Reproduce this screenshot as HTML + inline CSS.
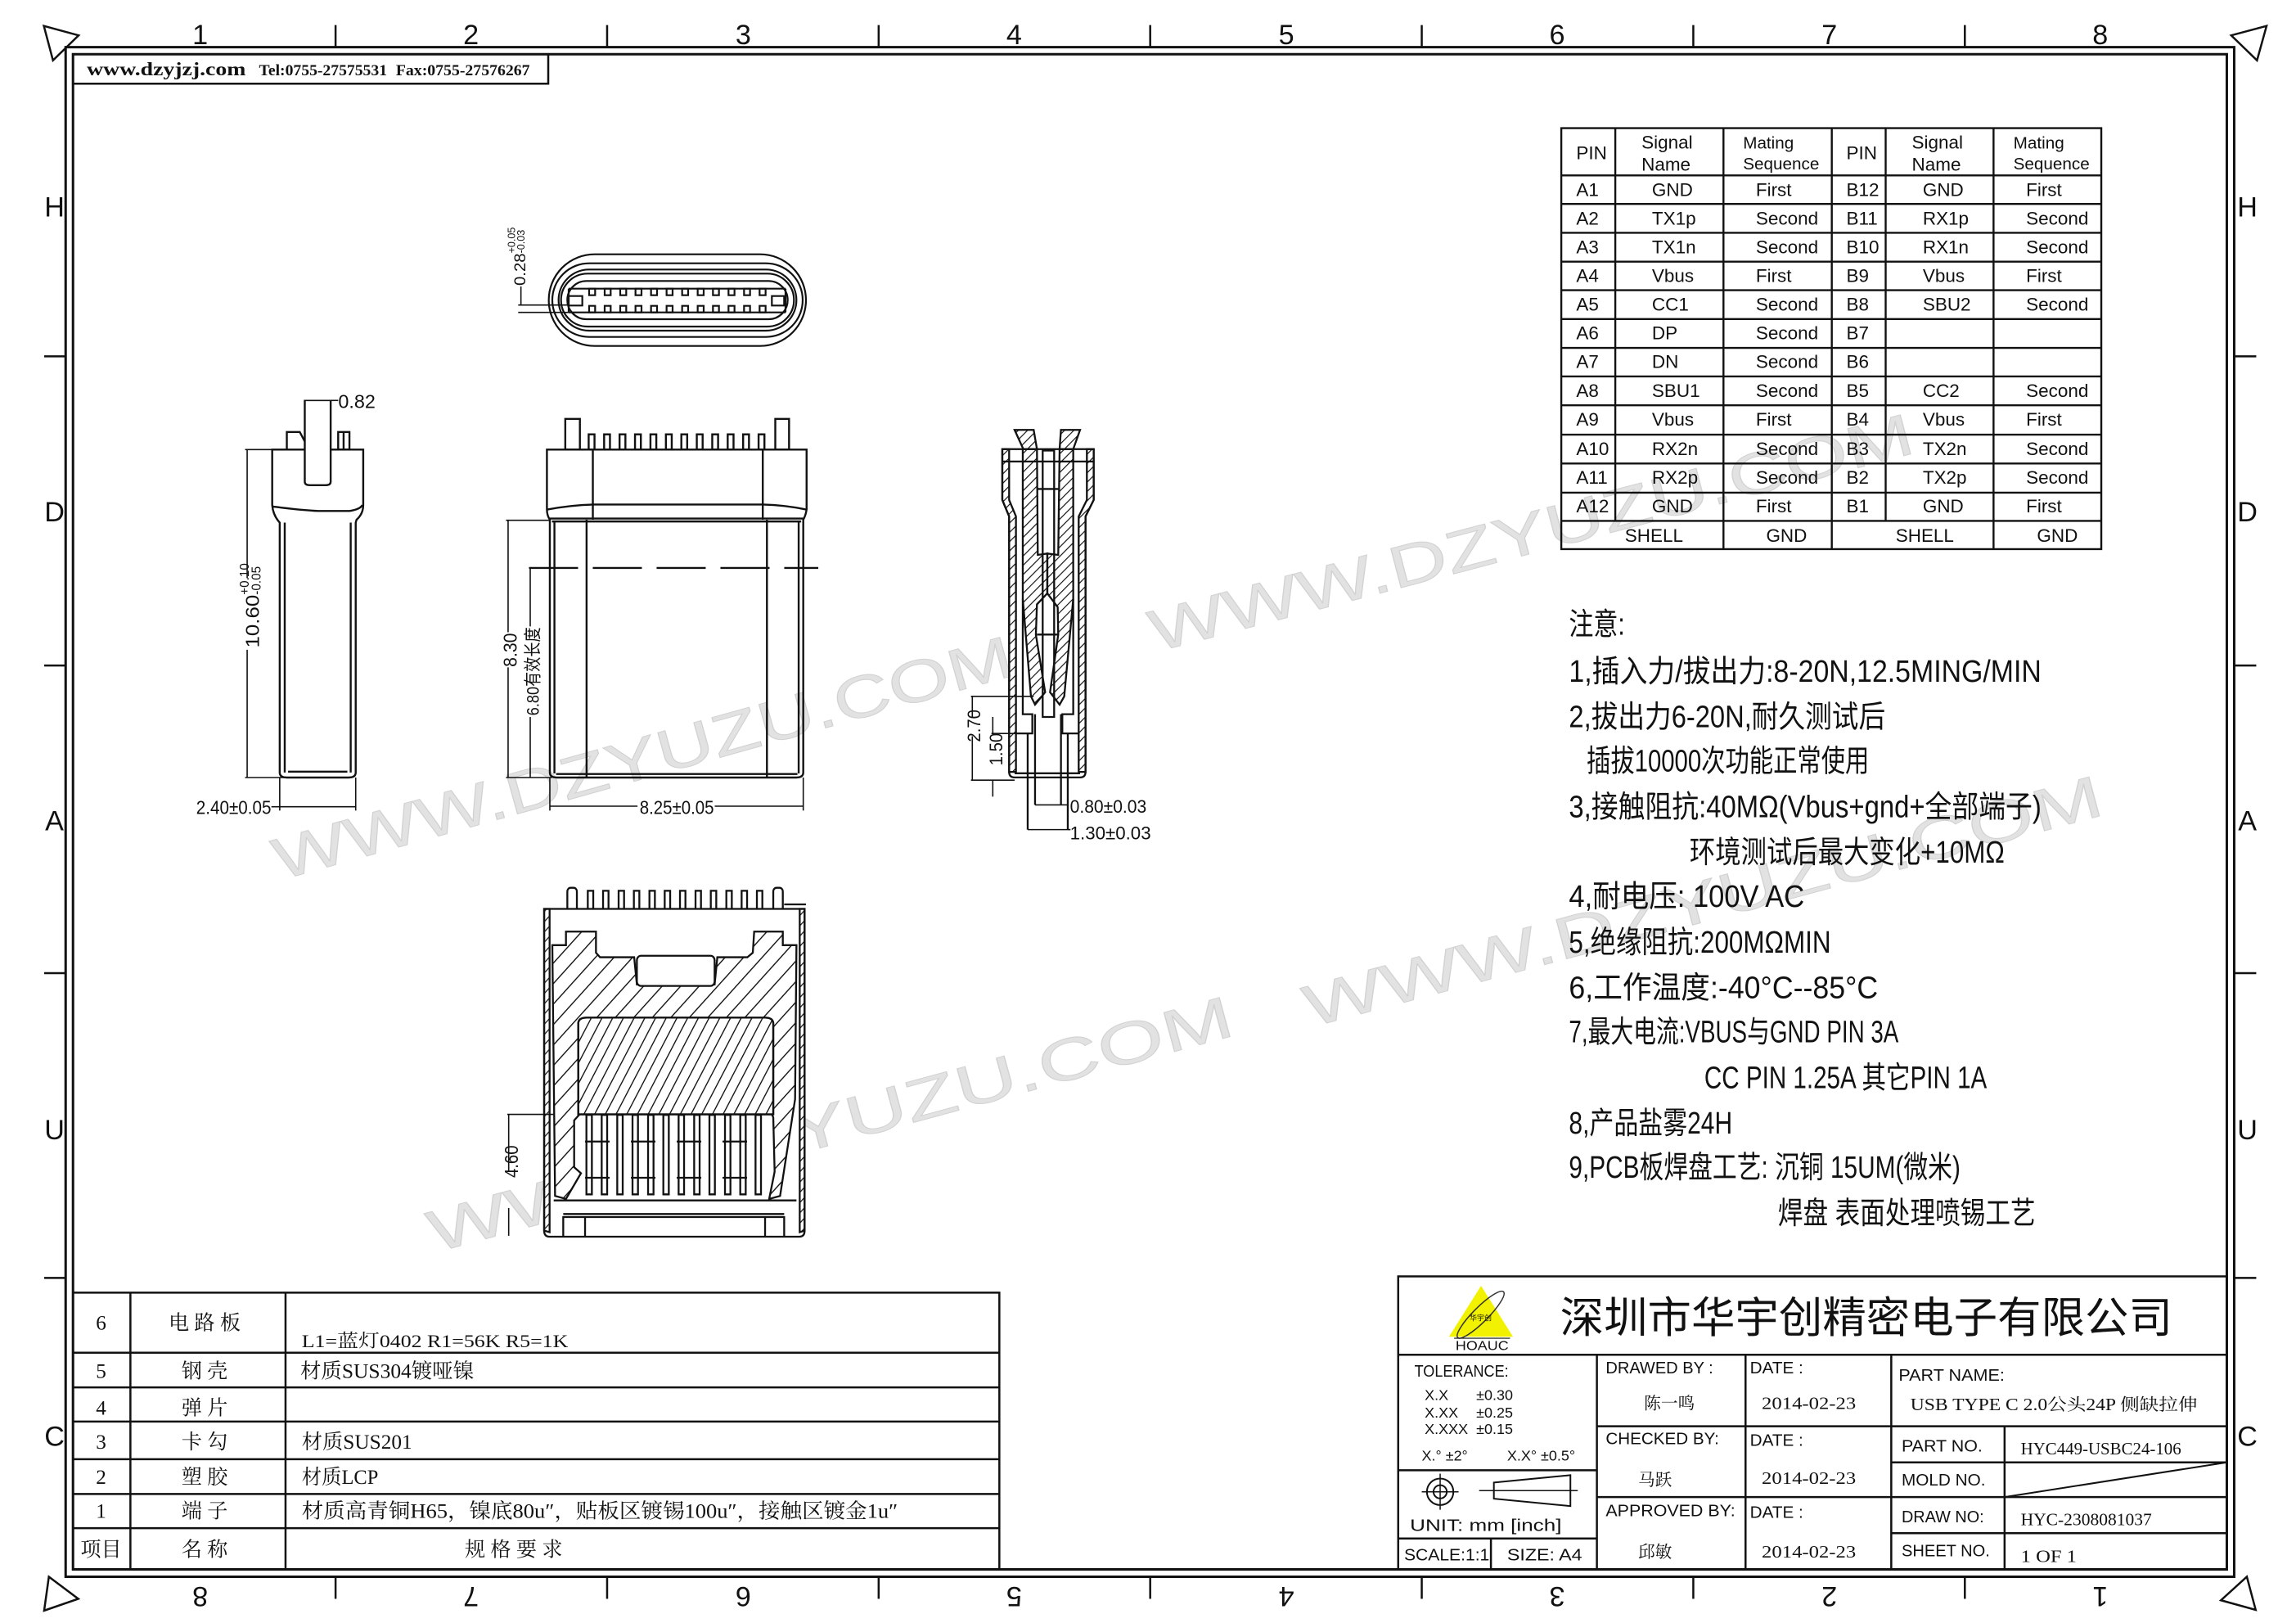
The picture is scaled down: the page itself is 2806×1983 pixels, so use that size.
<!DOCTYPE html>
<html><head><meta charset="utf-8"><style>
html,body{margin:0;padding:0;background:#fff;}
svg{display:block;}
svg *{vector-effect:non-scaling-stroke;}
.c{font-family:"Liberation Sans Narrow","Liberation Sans",sans-serif;fill:#111;}
.s{font-family:"Liberation Serif","Noto Serif CJK SC",serif;fill:#111;}
.k{font-family:"Liberation Sans Narrow","Liberation Sans","Noto Sans CJK SC",sans-serif;fill:#111;}
.ks{font-family:"Liberation Serif","Noto Serif CJK SC",serif;fill:#111;}
.wm{font-family:"Liberation Sans",sans-serif;fill:#e2e2e2;stroke:#d2d2d2;stroke-width:1;}
</style></head><body>
<svg width="2806" height="1983" viewBox="0 0 1560 1102.4" xmlns="http://www.w3.org/2000/svg">
<defs>
<pattern id="hA" patternUnits="userSpaceOnUse" width="48" height="48" patternTransform="rotate(45)"><rect x="-4" y="0" width="8" height="48" fill="#111" style="vector-effect:none"/></pattern>
<pattern id="hB" patternUnits="userSpaceOnUse" width="34" height="34" patternTransform="rotate(30)"><rect x="-4" y="0" width="8" height="34" fill="#111" style="vector-effect:none"/></pattern>
<pattern id="hC" patternUnits="userSpaceOnUse" width="24" height="24" patternTransform="rotate(45)"><rect x="-3.5" y="0" width="7" height="24" fill="#111" style="vector-effect:none"/></pattern>
<marker id="ar" viewBox="0 0 10 10" refX="10" refY="5" markerWidth="6" markerHeight="4" orient="auto-start-reverse" markerUnits="userSpaceOnUse"><path d="M0,2 L10,5 L0,8 Z" fill="#111"/></marker>
</defs>
<rect width="1560" height="1102.4" fill="#fff"/>

<g class="wm" font-size="40">
<text transform="translate(190,598) rotate(-15.6)" textLength="520" lengthAdjust="spacingAndGlyphs">WWW.DZYUZU.COM</text>
<text transform="translate(785,443) rotate(-14.7)" textLength="535" lengthAdjust="spacingAndGlyphs">WWW.DZYUZU.COM</text>
<text transform="translate(890,698) rotate(-15)" textLength="560" lengthAdjust="spacingAndGlyphs">WWW.DZYUZU.COM</text>
<text transform="translate(295,851) rotate(-15.2)" textLength="565" lengthAdjust="spacingAndGlyphs">WWW.DZYUZU.COM</text>
</g>

<g fill="none" stroke="#111">
<rect x="44.6" y="32" width="1473.4" height="1039" stroke-width="3"/>
<rect x="49.6" y="36.8" width="1463.4" height="1029.2" stroke-width="3"/>
<g stroke-width="2.5">
<line x1="228" y1="17" x2="228" y2="32"/><line x1="412.5" y1="17" x2="412.5" y2="32"/><line x1="597" y1="17" x2="597" y2="32"/><line x1="781.5" y1="17" x2="781.5" y2="32"/><line x1="966" y1="17" x2="966" y2="32"/><line x1="1150.5" y1="17" x2="1150.5" y2="32"/><line x1="1335" y1="17" x2="1335" y2="32"/>
<line x1="228" y1="1071" x2="228" y2="1086"/><line x1="412.5" y1="1071" x2="412.5" y2="1086"/><line x1="597" y1="1071" x2="597" y2="1086"/><line x1="781.5" y1="1071" x2="781.5" y2="1086"/><line x1="966" y1="1071" x2="966" y2="1086"/><line x1="1150.5" y1="1071" x2="1150.5" y2="1086"/><line x1="1335" y1="1071" x2="1335" y2="1086"/>
<line x1="30" y1="242" x2="44.6" y2="242"/><line x1="30" y1="452" x2="44.6" y2="452"/><line x1="30" y1="661" x2="44.6" y2="661"/><line x1="30" y1="868" x2="44.6" y2="868"/>
<line x1="1518" y1="242" x2="1533" y2="242"/><line x1="1518" y1="452" x2="1533" y2="452"/><line x1="1518" y1="661" x2="1533" y2="661"/><line x1="1518" y1="868" x2="1533" y2="868"/>
<polygon points="29.8,17.6 53.4,24 36,41"/>
<polygon points="1540,17.6 1516,24 1533.5,41"/>
<polygon points="33.2,1071 53.2,1086 30,1094"/>
<polygon points="1526.6,1071 1532.6,1093.5 1509,1087"/>
</g>
</g>
<g class="c" font-size="19" text-anchor="middle">
<text x="136" y="30">1</text><text x="320" y="30">2</text><text x="505" y="30">3</text><text x="689" y="30">4</text><text x="874" y="30">5</text><text x="1058" y="30">6</text><text x="1243" y="30">7</text><text x="1427" y="30">8</text>
<text x="37" y="147">H</text><text x="37" y="354">D</text><text x="37" y="564">A</text><text x="37" y="774">U</text><text x="37" y="982">C</text>
<text x="1527" y="147">H</text><text x="1527" y="354">D</text><text x="1527" y="564">A</text><text x="1527" y="774">U</text><text x="1527" y="982">C</text>
<text transform="translate(136,1078) rotate(180)">8</text><text transform="translate(320,1078) rotate(180)">7</text><text transform="translate(505,1078) rotate(180)">6</text><text transform="translate(689,1078) rotate(180)">5</text><text transform="translate(874,1078) rotate(180)">4</text><text transform="translate(1058,1078) rotate(180)">3</text><text transform="translate(1243,1078) rotate(180)">2</text><text transform="translate(1427,1078) rotate(180)">1</text>
</g>

<rect x="49.6" y="36.8" width="322.9" height="20" fill="none" stroke="#111" stroke-width="2.5"/>
<text class="s" x="59" y="51" font-size="13" font-weight="bold" textLength="108" lengthAdjust="spacingAndGlyphs">www.dzyjzj.com</text>
<text class="s" x="176" y="51" font-size="10.5" font-weight="bold" textLength="87" lengthAdjust="spacingAndGlyphs">Tel:0755-27575531</text>
<text class="s" x="269" y="51" font-size="10.5" font-weight="bold" textLength="91" lengthAdjust="spacingAndGlyphs">Fax:0755-27576267</text>

<g transform="translate(355.8,133.4) scale(0.18532)" fill="none" stroke="#111" stroke-width="2.2">
<rect x="92" y="212" width="943" height="336" rx="168"/>
<rect x="105" y="245" width="918" height="270" rx="135"/>
<rect x="128" y="268" width="872" height="224" rx="112"/>
<rect x="137" y="283" width="854" height="194" rx="97"/>
<rect x="160" y="310" width="808" height="140" rx="70"/>
<line x1="165" y1="338" x2="960" y2="338"/><line x1="165" y1="425" x2="960" y2="425"/>
<rect x="165" y="365" width="50" height="35"/><rect x="910" y="365" width="45" height="35"/>
<line x1="165" y1="338" x2="165" y2="425"/><line x1="960" y1="338" x2="960" y2="425"/>
<g>
<rect x="240" y="338" width="22" height="24"/><rect x="297" y="338" width="22" height="24"/><rect x="354" y="338" width="22" height="24"/><rect x="410" y="338" width="22" height="24"/><rect x="467" y="338" width="22" height="24"/><rect x="524" y="338" width="22" height="24"/><rect x="581" y="338" width="22" height="24"/><rect x="638" y="338" width="22" height="24"/><rect x="694" y="338" width="22" height="24"/><rect x="751" y="338" width="22" height="24"/><rect x="808" y="338" width="22" height="24"/><rect x="865" y="338" width="22" height="24"/>
<rect x="240" y="401" width="22" height="24"/><rect x="297" y="401" width="22" height="24"/><rect x="354" y="401" width="22" height="24"/><rect x="410" y="401" width="22" height="24"/><rect x="467" y="401" width="22" height="24"/><rect x="524" y="401" width="22" height="24"/><rect x="581" y="401" width="22" height="24"/><rect x="638" y="401" width="22" height="24"/><rect x="694" y="401" width="22" height="24"/><rect x="751" y="401" width="22" height="24"/><rect x="808" y="401" width="22" height="24"/><rect x="865" y="401" width="22" height="24"/>
</g>
<line x1="-20" y1="398" x2="165" y2="398" stroke-width="1.6"/><line x1="-20" y1="425" x2="165" y2="425" stroke-width="1.6"/>
<line x1="-10" y1="330" x2="-10" y2="398" stroke-width="1.6"/>
</g>
<g class="c" font-size="11">
<text transform="translate(357,194) rotate(-90)" textLength="22" lengthAdjust="spacingAndGlyphs">0.28</text>
<text transform="translate(350,172) rotate(-90)" font-size="7">+0.05</text>
<text transform="translate(356.5,172) rotate(-90)" font-size="7">-0.03</text>
</g>

<g transform="translate(111.2,255.7) scale(0.28366,0.19856)" fill="none" stroke="#111" stroke-width="2.4">
<path d="M260,250 L478,250 L478,440 Q478,470 462,490 L460,500 L460,1355 Q460,1372 443,1372 L295,1372 Q278,1372 278,1355 L278,500 Q262,475 260,440 Z"/>
<path d="M262,445 C300,452 330,458 370,460 L445,460 Q470,455 476,440"/>
<line x1="290" y1="500" x2="290" y2="1355"/><line x1="448" y1="500" x2="448" y2="1355"/>
<line x1="298" y1="1352" x2="440" y2="1352"/>
<path d="M338,80 L338,360 Q338,372 350,372 L388,372 Q400,372 400,360 L400,80" fill="#fff"/>
<path d="M295,250 L295,190 L326,190 L338,222"/>
<rect x="418" y="190" width="27" height="60"/><line x1="431" y1="190" x2="431" y2="250"/>
<g stroke-width="1.6">
<line x1="338" y1="82" x2="400" y2="82" marker-start="url(#ar)" marker-end="url(#ar)"/><line x1="400" y1="82" x2="418" y2="82"/>
<line x1="195" y1="250" x2="262" y2="250"/><line x1="195" y1="1372" x2="290" y2="1372"/>
<line x1="200" y1="250" x2="200" y2="690" marker-start="url(#ar)"/><line x1="200" y1="935" x2="200" y2="1372" marker-end="url(#ar)"/>
<line x1="278" y1="1372" x2="278" y2="1485"/><line x1="460" y1="1372" x2="460" y2="1485"/>
<line x1="258" y1="1472" x2="278" y2="1472"/><line x1="278" y1="1472" x2="460" y2="1472" marker-start="url(#ar)" marker-end="url(#ar)"/>
</g>
<rect x="962" y="145" width="35" height="105"/><rect x="1465" y="145" width="33" height="105"/>
<rect x="1018" y="198" width="14" height="52"/><rect x="1055" y="198" width="14" height="52"/><rect x="1092" y="198" width="14" height="52"/><rect x="1129" y="198" width="14" height="52"/><rect x="1166" y="198" width="14" height="52"/><rect x="1203" y="198" width="14" height="52"/><rect x="1240" y="198" width="14" height="52"/><rect x="1277" y="198" width="14" height="52"/><rect x="1314" y="198" width="14" height="52"/><rect x="1351" y="198" width="14" height="52"/><rect x="1388" y="198" width="14" height="52"/><rect x="1425" y="198" width="14" height="52"/>
<path d="M918,250 L1540,250 L1540,455 Q1538,475 1532,490 L1532,1355 Q1532,1372 1515,1372 L942,1372 Q925,1372 925,1355 L925,490 Q918,475 918,455 Z"/>
<path d="M920,455 Q975,440 1030,438 L1435,438 Q1490,440 1538,455"/>
<line x1="925" y1="486" x2="1532" y2="486"/><line x1="930" y1="496" x2="1527" y2="496"/>
<line x1="1028" y1="250" x2="1028" y2="490"/><line x1="1435" y1="250" x2="1435" y2="490"/>
<line x1="1013" y1="490" x2="1013" y2="1370"/><line x1="1445" y1="490" x2="1445" y2="1370"/>
<line x1="936" y1="496" x2="936" y2="1358"/><line x1="1521" y1="496" x2="1521" y2="1358"/>
<line x1="940" y1="1360" x2="1518" y2="1360"/>
<g stroke-width="1.6">
<line x1="875" y1="655" x2="1568" y2="655" stroke-dasharray="60,18" stroke-width="2.4"/>
<line x1="820" y1="492" x2="925" y2="492"/><line x1="820" y1="1372" x2="930" y2="1372"/>
<line x1="825" y1="492" x2="825" y2="875" marker-start="url(#ar)"/><line x1="825" y1="995" x2="825" y2="1372" marker-end="url(#ar)"/>
<line x1="878" y1="655" x2="878" y2="855" marker-start="url(#ar)"/><line x1="878" y1="1165" x2="878" y2="1372" marker-end="url(#ar)"/>
<line x1="925" y1="1372" x2="925" y2="1485"/><line x1="1532" y1="1372" x2="1532" y2="1485"/>
<line x1="925" y1="1470" x2="1135" y2="1470" marker-start="url(#ar)"/><line x1="1320" y1="1470" x2="1532" y2="1470" marker-end="url(#ar)"/>
</g>
</g>
<g class="c" font-size="13">
<text x="229.8" y="277">0.82</text>
<text transform="translate(176,440) rotate(-90)" textLength="36" lengthAdjust="spacingAndGlyphs">10.60</text>
<text transform="translate(169,404) rotate(-90)" font-size="8.5">+0.10</text>
<text transform="translate(177,404) rotate(-90)" font-size="8.5">-0.05</text>
<text x="133.3" y="553" textLength="51" lengthAdjust="spacingAndGlyphs">2.40±0.05</text>
<text transform="translate(351,453) rotate(-90)" textLength="23" lengthAdjust="spacingAndGlyphs">8.30</text>
<text class="k" transform="translate(366,486) rotate(-90)" font-size="12" textLength="60" lengthAdjust="spacingAndGlyphs">6.80有效长度</text>
<text x="434.6" y="553" textLength="50.5" lengthAdjust="spacingAndGlyphs">8.25±0.05</text>
</g>

<g transform="translate(656,283.6) scale(0.18532,0.1866)" stroke="#111" stroke-width="2.3" fill="none">
<path d="M135,115 L160,115 L160,300 L185,360 L185,1290 L160,1290 L160,360 L135,300 Z" fill="url(#hC)"/>
<path d="M470,115 L445,115 L445,300 L415,360 L415,1290 L440,1290 L440,360 L470,300 Z" fill="url(#hC)"/>
<path d="M135,115 L470,115 L470,300 L440,360 L440,1290 Q440,1310 420,1310 L180,1310 Q160,1310 160,1290 L160,360 L135,300 Z"/>
<line x1="135" y1="160" x2="470" y2="160"/>
<line x1="180" y1="1295" x2="420" y2="1295"/>
<path d="M180,45 L250,45 L262,115 L212,115 Z" fill="url(#hC)"/>
<path d="M350,45 L420,45 L395,115 L345,115 Z" fill="url(#hC)"/>
<path d="M210,115 L262,115 L265,500 L300,495 L300,640 L262,680 L258,790 L292,1000 L255,1045 L240,1015 L210,660 Z" fill="url(#hC)"/>
<path d="M345,115 L395,115 L395,660 L362,1015 L345,1045 L310,1000 L340,790 L338,690 L300,640 L300,495 L340,500 Z" fill="url(#hC)"/>
<rect x="283" y="120" width="42" height="970" fill="none"/>
<line x1="262" y1="260" x2="345" y2="260"/>
<line x1="262" y1="790" x2="340" y2="790"/>
<path d="M210,660 L210,1080 L245,1080 L245,1150 L185,1150"/>
<path d="M395,660 L395,1080 L355,1080 L355,1150 L415,1150"/>
<line x1="228" y1="1150" x2="228" y2="1500"/><line x1="375" y1="1150" x2="375" y2="1500"/>
<line x1="255" y1="1080" x2="255" y2="1410"/><line x1="350" y1="1080" x2="350" y2="1410"/>
<g stroke-width="1.6">
<line x1="20" y1="1015" x2="250" y2="1015"/><line x1="20" y1="1320" x2="180" y2="1320"/>
<line x1="25" y1="1015" x2="25" y2="1090" marker-start="url(#ar)"/><line x1="25" y1="1160" x2="25" y2="1320" marker-end="url(#ar)"/>
<line x1="95" y1="1150" x2="245" y2="1150"/>
<line x1="100" y1="1090" x2="100" y2="1150" marker-end="url(#ar)"/><line x1="100" y1="1320" x2="100" y2="1380" marker-start="url(#ar)"/>
<line x1="255" y1="1410" x2="350" y2="1410" marker-start="url(#ar)" marker-end="url(#ar)"/><line x1="350" y1="1410" x2="378" y2="1410"/>
<line x1="228" y1="1500" x2="375" y2="1500" marker-start="url(#ar)" marker-end="url(#ar)"/><line x1="375" y1="1500" x2="385" y2="1500"/>
</g>
</g>
<g class="c" font-size="12.5">
<text transform="translate(666,504) rotate(-90)" textLength="22" lengthAdjust="spacingAndGlyphs">2.70</text>
<text transform="translate(681,520) rotate(-90)" textLength="22" lengthAdjust="spacingAndGlyphs">1.50</text>
<text x="727" y="552" textLength="52" lengthAdjust="spacingAndGlyphs">0.80±0.03</text>
<text x="727" y="570" textLength="55" lengthAdjust="spacingAndGlyphs">1.30±0.03</text>
</g>

<g transform="translate(344.7,590.7) scale(0.18532,0.2052)" stroke="#111" stroke-width="2.3" fill="none">
<rect x="220" y="60" width="35" height="190" rx="12"/><rect x="975" y="60" width="35" height="190" rx="12"/>
<g>
<rect x="295" y="70" width="20" height="210"/><rect x="351" y="70" width="20" height="210"/><rect x="408" y="70" width="20" height="210"/><rect x="464" y="70" width="20" height="210"/><rect x="521" y="70" width="20" height="210"/><rect x="577" y="70" width="20" height="210"/><rect x="633" y="70" width="20" height="210"/><rect x="690" y="70" width="20" height="210"/><rect x="746" y="70" width="20" height="210"/><rect x="803" y="70" width="20" height="210"/><rect x="859" y="70" width="20" height="210"/><rect x="915" y="70" width="20" height="210"/>
</g>
<path d="M135,130 L1090,130 L1090,1195 Q1090,1215 1070,1215 L155,1215 Q135,1215 135,1195 Z" fill="#fff"/>
<path d="M135,130 L155,130 L155,1200 L135,1195 Z" fill="url(#hC)"/>
<path d="M1090,130 L1072,130 L1072,1200 L1090,1195 Z" fill="url(#hC)"/>
<line x1="1015" y1="115" x2="1095" y2="115"/>
<path d="M165,250 L215,250 L215,205 L325,205 L325,275 L340,290 L465,290 L475,380 L760,380 L770,290 L880,290 L900,275 L905,205 L1010,205 L1010,250 L1060,250 L1055,760 L1000,1080 L960,1090 L980,1000 L975,820 L970,810 L265,810 L245,830 L245,985 L270,1005 L215,1090 L175,1080 Z" fill="url(#hA)"/>
<rect x="475" y="285" width="285" height="100" rx="15" fill="#fff"/>
<path d="M260,810 L260,510 Q260,490 290,490 L945,490 Q975,490 975,510 L975,810 Z" fill="#fff"/>
<path d="M260,810 L260,510 Q260,490 290,490 L945,490 Q975,490 975,510 L975,810 Z" fill="url(#hB)"/>
<g>
<rect x="290" y="812" width="20" height="263"/><rect x="346" y="812" width="20" height="263"/><rect x="403" y="812" width="20" height="263"/><rect x="459" y="812" width="20" height="263"/><rect x="516" y="812" width="20" height="263"/><rect x="572" y="812" width="20" height="263"/><rect x="628" y="812" width="20" height="263"/><rect x="685" y="812" width="20" height="263"/><rect x="741" y="812" width="20" height="263"/><rect x="798" y="812" width="20" height="263"/><rect x="854" y="812" width="20" height="263"/><rect x="910" y="812" width="20" height="263"/>
</g>
<line x1="285" y1="900" x2="935" y2="900" stroke-dasharray="30,26"/><line x1="285" y1="1020" x2="935" y2="1020" stroke-dasharray="30,26"/>
<path d="M170,1095 L1060,1095"/>
<path d="M205,1215 L205,1150 L1015,1150 L1015,1215"/>
<line x1="205" y1="1140" x2="1015" y2="1140"/>
<line x1="285" y1="1150" x2="285" y2="1215"/><line x1="945" y1="1150" x2="945" y2="1215"/>
<g stroke-width="1.6">
<line x1="0" y1="810" x2="170" y2="810"/>
<line x1="5" y1="810" x2="5" y2="1000" marker-start="url(#ar)"/><line x1="5" y1="1120" x2="5" y2="1212" marker-end="url(#ar)"/>
</g>
</g>
<text class="c" transform="translate(352,800) rotate(-90)" font-size="13" textLength="22" lengthAdjust="spacingAndGlyphs">4.60</text>

<g fill="none" stroke="#111" stroke-width="2.4">
<rect x="1060.8" y="87" width="366.9" height="286"/>
<line x1="1097.5" y1="87" x2="1097.5" y2="353.8"/><line x1="1171" y1="87" x2="1171" y2="373"/><line x1="1244.6" y1="87" x2="1244.6" y2="373"/><line x1="1281.2" y1="87" x2="1281.2" y2="353.8"/><line x1="1354.5" y1="87" x2="1354.5" y2="373"/>
<line x1="1060.8" y1="119.1" x2="1427.7" y2="119.1"/><line x1="1060.8" y1="138.5" x2="1427.7" y2="138.5"/><line x1="1060.8" y1="158.1" x2="1427.7" y2="158.1"/><line x1="1060.8" y1="177.7" x2="1427.7" y2="177.7"/><line x1="1060.8" y1="197.1" x2="1427.7" y2="197.1"/><line x1="1060.8" y1="216.7" x2="1427.7" y2="216.7"/><line x1="1060.8" y1="236.3" x2="1427.7" y2="236.3"/><line x1="1060.8" y1="255.7" x2="1427.7" y2="255.7"/><line x1="1060.8" y1="275.3" x2="1427.7" y2="275.3"/><line x1="1060.8" y1="295.2" x2="1427.7" y2="295.2"/><line x1="1060.8" y1="314.8" x2="1427.7" y2="314.8"/><line x1="1060.8" y1="334.6" x2="1427.7" y2="334.6"/><line x1="1060.8" y1="353.8" x2="1427.7" y2="353.8"/>
</g>
<g class="c" font-size="12.5">
<text x="1071" y="108">PIN</text><text x="1254.5" y="108">PIN</text>
<text x="1115.3" y="101" font-size="12.5">Signal</text><text x="1115.3" y="116" font-size="12.5">Name</text>
<text x="1184.3" y="101" font-size="11.5">Mating</text><text x="1184.3" y="115" font-size="11.5">Sequence</text>
<text x="1299" y="101" font-size="12.5">Signal</text><text x="1299" y="116" font-size="12.5">Name</text>
<text x="1368" y="101" font-size="11.5">Mating</text><text x="1368" y="115" font-size="11.5">Sequence</text>
<g>
<text x="1071" y="133">A1</text><text x="1122.4" y="133">GND</text><text x="1193" y="133">First</text><text x="1254.5" y="133">B12</text><text x="1306.4" y="133">GND</text><text x="1376.6" y="133">First</text>
<text x="1071" y="152.5">A2</text><text x="1122.4" y="152.5">TX1p</text><text x="1193" y="152.5">Second</text><text x="1254.5" y="152.5">B11</text><text x="1306.4" y="152.5">RX1p</text><text x="1376.6" y="152.5">Second</text>
<text x="1071" y="172">A3</text><text x="1122.4" y="172">TX1n</text><text x="1193" y="172">Second</text><text x="1254.5" y="172">B10</text><text x="1306.4" y="172">RX1n</text><text x="1376.6" y="172">Second</text>
<text x="1071" y="191.5">A4</text><text x="1122.4" y="191.5">Vbus</text><text x="1193" y="191.5">First</text><text x="1254.5" y="191.5">B9</text><text x="1306.4" y="191.5">Vbus</text><text x="1376.6" y="191.5">First</text>
<text x="1071" y="211">A5</text><text x="1122.4" y="211">CC1</text><text x="1193" y="211">Second</text><text x="1254.5" y="211">B8</text><text x="1306.4" y="211">SBU2</text><text x="1376.6" y="211">Second</text>
<text x="1071" y="230.5">A6</text><text x="1122.4" y="230.5">DP</text><text x="1193" y="230.5">Second</text><text x="1254.5" y="230.5">B7</text>
<text x="1071" y="250">A7</text><text x="1122.4" y="250">DN</text><text x="1193" y="250">Second</text><text x="1254.5" y="250">B6</text>
<text x="1071" y="269.5">A8</text><text x="1122.4" y="269.5">SBU1</text><text x="1193" y="269.5">Second</text><text x="1254.5" y="269.5">B5</text><text x="1306.4" y="269.5">CC2</text><text x="1376.6" y="269.5">Second</text>
<text x="1071" y="289">A9</text><text x="1122.4" y="289">Vbus</text><text x="1193" y="289">First</text><text x="1254.5" y="289">B4</text><text x="1306.4" y="289">Vbus</text><text x="1376.6" y="289">First</text>
<text x="1071" y="309">A10</text><text x="1122.4" y="309">RX2n</text><text x="1193" y="309">Second</text><text x="1254.5" y="309">B3</text><text x="1306.4" y="309">TX2n</text><text x="1376.6" y="309">Second</text>
<text x="1071" y="328.5">A11</text><text x="1122.4" y="328.5">RX2p</text><text x="1193" y="328.5">Second</text><text x="1254.5" y="328.5">B2</text><text x="1306.4" y="328.5">TX2p</text><text x="1376.6" y="328.5">Second</text>
<text x="1071" y="348">A12</text><text x="1122.4" y="348">GND</text><text x="1193" y="348">First</text><text x="1254.5" y="348">B1</text><text x="1306.4" y="348">GND</text><text x="1376.6" y="348">First</text>
<text x="1104" y="368">SHELL</text><text x="1200" y="368">GND</text><text x="1288" y="368">SHELL</text><text x="1384" y="368">GND</text>
</g>
</g>

<g class="k" font-size="21">
<text x="1066" y="431" textLength="38" lengthAdjust="spacingAndGlyphs">注意:</text>
<text x="1066" y="463" textLength="321" lengthAdjust="spacingAndGlyphs">1,插入力/拔出力:8-20N,12.5MING/MIN</text>
<text x="1066" y="494" textLength="215" lengthAdjust="spacingAndGlyphs">2,拔出力6-20N,耐久测试后</text>
<text x="1078" y="524" textLength="192" lengthAdjust="spacingAndGlyphs">插拔10000次功能正常使用</text>
<text x="1066" y="555" textLength="321" lengthAdjust="spacingAndGlyphs">3,接触阻抗:40MΩ(Vbus+gnd+全部端子)</text>
<text x="1148" y="586" textLength="214" lengthAdjust="spacingAndGlyphs">环境测试后最大变化+10MΩ</text>
<text x="1066" y="616" textLength="160" lengthAdjust="spacingAndGlyphs">4,耐电压: 100V AC</text>
<text x="1066" y="647" textLength="178" lengthAdjust="spacingAndGlyphs">5,绝缘阻抗:200MΩMIN</text>
<text x="1066" y="678" textLength="210" lengthAdjust="spacingAndGlyphs">6,工作温度:-40°C--85°C</text>
<text x="1066" y="708" textLength="224" lengthAdjust="spacingAndGlyphs">7,最大电流:VBUS与GND PIN 3A</text>
<text x="1158" y="739" textLength="192" lengthAdjust="spacingAndGlyphs">CC PIN 1.25A 其它PIN 1A</text>
<text x="1066" y="770" textLength="111" lengthAdjust="spacingAndGlyphs">8,产品盐雾24H</text>
<text x="1066" y="800" textLength="266" lengthAdjust="spacingAndGlyphs">9,PCB板焊盘工艺: 沉铜 15UM(微米)</text>
<text x="1208" y="831" textLength="175" lengthAdjust="spacingAndGlyphs">焊盘 表面处理喷锡工艺</text>
</g>

<g fill="none" stroke="#111" stroke-width="2.5">
<rect x="49.6" y="878" width="629.4" height="188"/>
<line x1="88.6" y1="878" x2="88.6" y2="1066"/><line x1="194" y1="878" x2="194" y2="1066"/>
<line x1="49.6" y1="918.8" x2="679" y2="918.8"/><line x1="49.6" y1="942.4" x2="679" y2="942.4"/><line x1="49.6" y1="965.6" x2="679" y2="965.6"/><line x1="49.6" y1="991.2" x2="679" y2="991.2"/><line x1="49.6" y1="1014.8" x2="679" y2="1014.8"/><line x1="49.6" y1="1038" x2="679" y2="1038"/>
</g>
<g class="ks" font-size="14">
<g text-anchor="middle">
<text x="68.7" y="903">6</text><text x="68.7" y="936">5</text><text x="68.7" y="961">4</text><text x="68.7" y="984">3</text><text x="68.7" y="1008">2</text><text x="68.7" y="1031">1</text><text x="68.7" y="1057">项目</text>
<text x="139" y="903">电 路 板</text><text x="139" y="936">钢 壳</text><text x="139" y="961">弹 片</text><text x="139" y="984">卡 勾</text><text x="139" y="1008">塑 胶</text><text x="139" y="1031">端 子</text><text x="139" y="1057">名  称</text>
<text x="349" y="1057">规 格 要 求</text>
</g>
<text x="205" y="915" font-size="12.5" textLength="181" lengthAdjust="spacingAndGlyphs">L1=蓝灯0402    R1=56K   R5=1K</text>
<text x="204" y="936" textLength="118" lengthAdjust="spacingAndGlyphs">材质SUS304镀哑镍</text>
<text x="205" y="984" textLength="75" lengthAdjust="spacingAndGlyphs">材质SUS201</text>
<text x="205" y="1008" textLength="52" lengthAdjust="spacingAndGlyphs">材质LCP</text>
<text x="205" y="1031" textLength="405" lengthAdjust="spacingAndGlyphs">材质高青铜H65，镍底80u″，贴板区镀锡100u″，接触区镀金1u″</text>
</g>

<g fill="none" stroke="#111" stroke-width="2.5">
<rect x="950" y="867" width="563" height="199"/>
<line x1="950" y1="920.2" x2="1513" y2="920.2"/>
<line x1="1085" y1="920.2" x2="1085" y2="1066"/><line x1="1186" y1="920.2" x2="1186" y2="1066"/><line x1="1285" y1="920.2" x2="1285" y2="1066"/>
<line x1="1362" y1="968.8" x2="1362" y2="1066"/>
<line x1="1085" y1="968.8" x2="1513" y2="968.8"/><line x1="1085" y1="1016.9" x2="1285" y2="1016.9"/>
<line x1="1285" y1="993.3" x2="1513" y2="993.3"/><line x1="1285" y1="1016.9" x2="1513" y2="1016.9"/><line x1="1285" y1="1041.4" x2="1513" y2="1041.4"/>
<line x1="950" y1="998.7" x2="1085" y2="998.7"/><line x1="950" y1="1045" x2="1085" y2="1045"/><line x1="1013" y1="1045" x2="1013" y2="1066"/>
<line x1="1362" y1="1016.9" x2="1513" y2="993.3" stroke-width="2"/>
<circle cx="978.5" cy="1013.3" r="9" stroke-width="2"/><circle cx="978.5" cy="1013.3" r="4.5" stroke-width="2"/>
<line x1="966" y1="1013.3" x2="991" y2="1013.3" stroke-width="1.5"/><line x1="978.5" y1="1001" x2="978.5" y2="1025.5" stroke-width="1.5"/>
<path d="M1015,1007 L1067,1002 L1067,1023 L1015,1018 Z" stroke-width="2"/><line x1="1005" y1="1012.5" x2="1072" y2="1012.5" stroke-width="1.5"/>
</g>
<polygon points="1006.3,873.4 984.5,908 1028,908" fill="#f2f200"/>
<ellipse cx="1006" cy="893" rx="22" ry="5" transform="rotate(-45 1006 893)" fill="none" stroke="#333" stroke-width="1.5"/>
<text class="k" x="1006" y="897" font-size="5" text-anchor="middle">华宇创</text>
<line x1="988" y1="909" x2="1026" y2="909" stroke="#111" stroke-width="1.2"/>
<text class="c" x="1007" y="917" font-size="8.5" text-anchor="middle" textLength="36" lengthAdjust="spacingAndGlyphs">HOAUC</text>
<text class="k" x="1060" y="905" font-size="29" textLength="416" lengthAdjust="spacingAndGlyphs">深圳市华宇创精密电子有限公司</text>
<g class="c" font-size="11.5">
<text x="961" y="935" textLength="64" lengthAdjust="spacingAndGlyphs">TOLERANCE:</text>
<text x="968" y="951" font-size="10">X.X</text><text x="1003" y="951" font-size="10">±0.30</text>
<text x="968" y="963" font-size="10">X.XX</text><text x="1003" y="963" font-size="10">±0.25</text>
<text x="968" y="974" font-size="10">X.XXX</text><text x="1003" y="974" font-size="10">±0.15</text>
<text x="966" y="992" font-size="10">X.° ±2°</text><text x="1024" y="992" font-size="10">X.X° ±0.5°</text>
<text x="958" y="1040" textLength="103" lengthAdjust="spacingAndGlyphs">UNIT:  mm  [inch]</text>
<text x="954" y="1060" textLength="58" lengthAdjust="spacingAndGlyphs">SCALE:1:1</text>
<text x="1024" y="1060" textLength="51" lengthAdjust="spacingAndGlyphs">SIZE:  A4</text>
<text x="1091" y="933" textLength="73" lengthAdjust="spacingAndGlyphs">DRAWED  BY :</text>
<text x="1091" y="981" textLength="77" lengthAdjust="spacingAndGlyphs">CHECKED  BY:</text>
<text x="1091" y="1030" textLength="88" lengthAdjust="spacingAndGlyphs">APPROVED  BY:</text>
<text x="1189" y="933">DATE  :</text><text x="1189" y="982">DATE  :</text><text x="1189" y="1031">DATE  :</text>
<text x="1290" y="938" textLength="72" lengthAdjust="spacingAndGlyphs">PART  NAME:</text>
<text x="1292" y="986" textLength="55" lengthAdjust="spacingAndGlyphs">PART  NO.</text>
<text x="1292" y="1009" textLength="57" lengthAdjust="spacingAndGlyphs">MOLD  NO.</text>
<text x="1292" y="1034" textLength="56" lengthAdjust="spacingAndGlyphs">DRAW  NO:</text>
<text x="1292" y="1057" textLength="60" lengthAdjust="spacingAndGlyphs">SHEET  NO.</text>
</g>
<g class="ks" font-size="11.5">
<text x="1117" y="957">陈一鸣</text><text x="1113" y="1009">马跃</text><text x="1113" y="1058">邱敏</text>
<text x="1197" y="957" textLength="64" lengthAdjust="spacingAndGlyphs">2014-02-23</text>
<text x="1197" y="1008" textLength="64" lengthAdjust="spacingAndGlyphs">2014-02-23</text>
<text x="1197" y="1058" textLength="64" lengthAdjust="spacingAndGlyphs">2014-02-23</text>
<text x="1298" y="958" textLength="195" lengthAdjust="spacingAndGlyphs">USB TYPE C 2.0公头24P 侧缺拉伸</text>
<text x="1373" y="988" textLength="109" lengthAdjust="spacingAndGlyphs">HYC449-USBC24-106</text>
<text x="1373" y="1036" textLength="89" lengthAdjust="spacingAndGlyphs">HYC-2308081037</text>
<text x="1373" y="1061" textLength="38" lengthAdjust="spacingAndGlyphs">1 OF 1</text>
</g>
</svg>
</body></html>
